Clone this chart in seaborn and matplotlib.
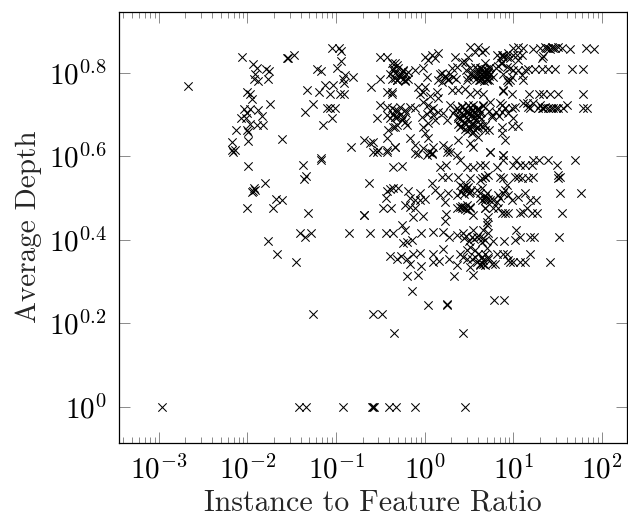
import numpy as np
import pandas as pd
import matplotlib
matplotlib.use("Agg")
import matplotlib.pyplot as plt
from matplotlib.ticker import FixedLocator, FixedFormatter, LogLocator, NullFormatter, NullLocator
import seaborn as sns

# Data as log10 values, one pair of lists per part of the cloud
x_bottom = [-2.96, -1.42, -1.34, -.92, -.59, -.58, -.57, -.40, -.32, -.11, .455, -1.256, -.58, -.478, -.346, .435, .034, .248, .25, .78, .894, -.14]
y_bottom = [0, 0, 0, 0, 0, 0, 0, 0, 0, 0, 0, .221, .221, .221, .176, .176, .243, .243, .247, .255, .255, .277]

x_left_low = [-1.989, -1.376, -1.173, -1.342, -1.357, -1.801, -1.925, -1.932, -1.914, -1.951, -1.68, -1.613, -2.0, -1.714, -1.312, -.68, -.85, -1.406, -1.35, -1.286, -1.763, -1.669, -1.451, -2.165]
y_left_low = [.577, .579, .591, .553, .545, .537, .523, .517, .519, .515, .497, .495, .477, .477, .463, .459, .415, .415, .406, .415, .398, .367, .347, .611]

x_left_high = [-2.056, -1.932, -1.895, -1.914, -1.925, -1.883, -1.771, -1.789, -1.752, -1.556, -2.665, -2.008, -1.97, -1.951, -1.744, -2.038, -1.97, -1.883, -2, -2.075, -2.015, -1.838, -1.97, -1.895, -1.82, -2, -1.989, -2.128, -1.613, -2.177, -1.989, -2.177, -2.139]
y_left_high = [.837, .82, .81, .798, .786, .78, .784, .809, .804, .834, .768, .754, .75, .737, .725, .713, .713, .71, .703, .691, .691, .696, .676, .675, .675, .663, .657, .663, .64, .635, .636, .615, .615]

x_mid_high = [-1.538, -1.474, -1.049, -.962, -.947, -.947, -1.211, -1.169, -.985, -.898, -.917, -.812, -.906, -1.323, -1.192, -1.124, -1.038, -1.068, -.955, -.91, -1.263, -1.35, -1.098, -1.068, -1.011, -1.049, -1.143, -.831, -1.173, -.684, -.609, -.504, -.504, -.429, -.335, -.372, -.316, -.429, -.372, -.504, -.429, -.541, -.429, -.335, -.41, -.353, -.316, -.429, -.579, -.335, -.579, -.523, -.429, -.617]
y_mid_high = [.834, .842, .858, .858, .853, .829, .808, .805, .81, .794, .784, .79, .776, .758, .754, .77, .77, .749, .749, .749, .724, .707, .716, .716, .716, .692, .675, .623, .595, .639, .766, .785, .837, .837, .822, .784, .782, .754, .754, .723, .719, .691, .699, .695, .663, .671, .675, .643, .635, .623, .611, .615, .616, .631]

x_core_top = [.004, .079, .154, .041, .117, .342, .511, .605, .68, .568, .643, .492, .455, .812, .887, .944, .85,
              -.372, -.316, -.353, -.241, -.184, -.109, -.278, -.391, -.316, -.222, -.015, .023, .173, .229, .305, .361, .417, .511, .568, .624, .68, .605, .662, .718, .549, .624, .699, .474, .774, .887, .925, .192, .267, .154, .737]
y_core_top = [.837, .842, .846, .83, .834, .838, .862, .862, .854, .85, .85, .838, .826, .842, .842, .846, .834,
              .822, .818, .81, .806, .802, .806, .794, .798, .782, .782, .81, .79, .798, .79, .81, .814, .826, .81, .814, .81, .822, .798, .802, .802, .79, .782, .782, .782, .79, .798, .782, .778, .782, .782, .814]

x_core_mid = [-.071, -.015, .060, -.372, .135, .154, .305, .380, .455, .511, .586, .662, .887, -.053, .004,
              -.372, -.335, -.278, -.222, -.165, -.109, -.015, .041, .098, .154, .211, .286, .342, .417, .492, .549, .605, .662, .737, .868, .906, -.391, -.316, -.260, -.203, -.034, .041, .117, .380, .436, .511, .568, .624, .455, .530, .605, .680, .756, -.335, -.222, -.015, .248, .323, .398, .474, .530, .586]
y_core_mid = [.766, .754, .743, .75, .754, .739, .758, .758, .762, .75, .754, .75, .758, .75, .766,
              .715, .711, .719, .711, .719, .715, .73, .723, .715, .707, .703, .723, .711, .719, .723, .723, .715, .723, .73, .723, .715, .691, .695, .687, .675, .695, .679, .687, .691, .699, .703, .695, .703, .679, .675, .671, .675, .695, .671, .683, .671, .687, .703, .671, .707, .711, .711]

x_core_low = [-.165, -.109, 0, .041, .098, -.015, .211, .267, .380, .511, .549, -.335, -.109, .079, .253, .053, .023, .879, .737, .530, .605, .723, .887, .68]
y_core_low = [.643, .627, .655, .643, .623, .619, .627, .619, .639, .631, .623, .623, .607, .607, .611, .611, .603, .603, .611, .655, .647, .663, .603, .663]

# The darkest clumps of the cloud
x_clump_top = [.59, .61, .63, .65, .67, .69, .71, .73, .60, .62, .64, .66, .68, .70, .72, .74, .58, .61, .64, .67, .70, .73, .55, .52, .49, .46, -.36, -.33, -.30, -.27, -.24, -.21, -.34, -.31, -.28, -.25, -.22, -.19, .20, .23, .26, .29, .32, .35, .80, .83, .86]
y_clump_top = [.808, .804, .81, .806, .802, .808, .804, .81, .796, .792, .798, .794, .79, .796, .792, .798, .784, .782, .786, .78, .784, .782, .794, .80, .79, .806, .806, .80, .81, .796, .804, .798, .788, .782, .79, .786, .78, .784, .80, .792, .786, .798, .79, .784, .81, .816, .822]

x_clump_mid = [.36, .39, .42, .45, .48, .51, .54, .57, .60, .63, .66, .37, .40, .43, .46, .49, .52, .55, .58, .61, .64, .38, .41, .44, .47, .50, .53, .56, .59, .62, .65, .45, .48, .51, .54, .57, -.36, -.33, -.30, -.27, -.24, -.21, .03, .06, .09, .72, .76, .80, .84]
y_clump_mid = [.716, .708, .72, .712, .704, .718, .71, .702, .714, .706, .72, .696, .69, .7, .694, .688, .698, .692, .686, .696, .69, .678, .672, .682, .676, .67, .68, .674, .668, .678, .672, .664, .66, .664, .658, .662, .702, .694, .708, .7, .692, .704, .702, .71, .698, .708, .698, .705, .696]

x_clump_low = [.40, .43, .46, .49, .52, .41, .44, .47, .50, .42, .45, .48, .51, .44, .47, .50, .53, .56, .62, .65, .68, .71]
y_clump_low = [.53, .524, .532, .526, .52, .514, .51, .518, .512, .48, .474, .482, .476, .404, .41, .398, .406, .402, .50, .494, .504, .498]

x_right_top = [.999, 1.056, 1.113, 1.225, 1.3, 1.357, 1.394, 1.432, 1.47, 1.507, 1.545, 1.639, 1.819, 1.913, 1.338, 1.319, 1.094, 1.037, .887, .925, .962, .868, .999, 1.056, 1.37, 1.41, 1.45]
y_right_top = [.858, .862, .858, .857, .86, .862, .86, .862, .86, .862, .858, .856, .86, .856, .841, .834, .842, .842, .838, .838, .834, .842, .842, .83, .858, .856, .858]

x_right_mid = [.962, .999, 1.056, 1.132, 1.17, 1.244, 1.319, 1.394, 1.47, 1.657, 1.782, .868, .925, 1.094, .962, .981, 1.113, .943, .887, .981, 1.18, 1.293, 1.338, 1.413, 1.507, 1.782]
y_right_mid = [.81, .806, .806, .806, .808, .808, .808, .808, .808, .808, .808, .822, .814, .794, .782, .79, .782, .778, .756, .748, .748, .748, .748, .748, .748, .748]

x_right_low = [.849, .906, .981, 1.018, 1.113, 1.17, 1.225, 1.3, 1.338, 1.394, 1.451, 1.507, 1.564, 1.601, 1.789, 1.834, 1.15, 1.188, .868, .943, .999, .868, 1.056, .981, .868, .906, 1.28, 1.32, 1.36, 1.42, 1.48]
y_right_low = [.727, .715, .715, .719, .727, .719, .727, .723, .715, .715, .715, .715, .716, .723, .715, .716, .727, .715, .707, .703, .691, .671, .673, .673, .655, .639, .715, .716, .719, .716, .715]

x_band_59 = [-.628, -.353, -.252, -.429, -.391, -.353, -.297, -.436, -.192, -.165, -.109, -.053, -.053, .004, .079, .117, .173, .229, .267, .361, .436, .474, .511, .586, .624, .699, .68, .398, .455, .173, .241, .192, .267, .38, .474, .549, .624, .511, .624, .68, -.071, .079, .361, -.541, -.429, .398, .286]
y_band_59 = [.537, .575, .577, .517, .521, .525, .525, .499, .517, .499, .495, .511, .495, .497, .535, .519, .507, .491, .511, .507, .527, .523, .515, .519, .511, .511, .495, .479, .479, .575, .579, .551, .551, .551, .575, .575, .579, .547, .543, .551, .605, .605, .603, .611, .611, .591, .611]

x_band_59_r = [.68, .879, .812, 1.0, 1.026, 1.075, 1.132, 1.207, 1.225, 1.293, 1.394, 1.488, 1.695, .736, .643, .718, .68, .85, .887, 1.018, 1.056, 1.094, 1.17, 1.225, 1.507, 1.507, 1.526, .643, .906, .925, .68, .774, .85, .943, .981, 1.056, 1.132, 1.188, 1.255, 1.526, 1.759, .736, .812, .887, .83]
y_band_59_r = [.579, .591, .575, .579, .591, .579, .579, .579, .592, .592, .592, .579, .591, .611, .547, .555, .551, .551, .547, .551, .551, .547, .547, .551, .547, .555, .551, .523, .519, .531, .499, .495, .499, .507, .495, .503, .513, .495, .495, .513, .511, .495, .491, .511, .507]

x_band_46 = [-.684, -.466, -.383, -.135, -.023, -.165, -.109, .229, .241, -.222, .361, .417, .549, .474, .511, .68, .68, .774, .868, .943, 1.075, 1.15, 1.207, 1.27, 1.552, .718, .83, 1.113, .906]
y_band_46 = [.459, .477, .477, .455, .457, .479, .477, .446, .461, .483, .475, .475, .459, .471, .479, .475, .475, .475, .463, .463, .463, .475, .463, .463, .463, .455, .475, .467, .463]

x_band_41 = [-.617, -.436, -.361, -.045, .09, .203, .278, .361, .436, .549, .586, .662, .718, -.203, -.241, -.147, -.222, -.259, .706, .661, 1.03, .68, .774, .894, 1.018, 1.075, 1.188, 1.233, 1.511, .624, .70, .643]
y_band_41 = [.415, .415, .415, .415, .418, .418, .406, .411, .415, .423, .407, .403, .415, .395, .391, .399, .423, .435, .443, .423, .423, .399, .398, .398, .399, .406, .406, .406, .406, .407, .435, .395]

x_band_35 = [-.39, -.316, -.27, -.203, -.165, -.128, -.053, -.045, .09, .098, .165, .203, .278, .368, .398, .474, .511, .568, .605, .662, .718, .474, .53, .586, .643, .68, .511, .568, .436, .624,
             .643, .68, .755, .793, .812, .925, .943, 1.0, 1.075, 1.132, 1.188, 1.413, .699, .661, .624, .887, .718, .962,
             -.2, -.08, .33, .545]
y_band_35 = [.361, .355, .361, .353, .342, .367, .369, .337, .367, .347, .349, .377, .353, .339, .367, .375, .335, .359, .367, .351, .359, .355, .355, .347, .359, .339, .383, .375, .359, .343,
             .359, .367, .343, .343, .367, .367, .351, .347, .347, .347, .367, .347, .379, .343, .339, .367, .355, .347,
             .314, .315, .314, .315]

# Axis ticks and labels
x_tick_values = [1e-3, 1e-2, 1e-1, 1e0, 1e1, 1e2]
x_tick_labels = ['$10^{-3}$', '$10^{-2}$', '$10^{-1}$', '$10^{0}$', '$10^{1}$', '$10^{2}$']
y_tick_exponents = [0, 0.2, 0.4, 0.6, 0.8]
y_tick_labels = ['$10^{0}$', '$10^{0.2}$', '$10^{0.4}$', '$10^{0.6}$', '$10^{0.8}$']

log_x = (x_bottom + x_left_low + x_left_high + x_mid_high + x_core_top + x_core_mid + x_core_low + x_clump_top + x_clump_mid
         + x_clump_low + x_right_top + x_right_mid + x_right_low + x_band_59 + x_band_59_r + x_band_46 + x_band_41 + x_band_35)
log_y = (y_bottom + y_left_low + y_left_high + y_mid_high + y_core_top + y_core_mid + y_core_low + y_clump_top + y_clump_mid
         + y_clump_low + y_right_top + y_right_mid + y_right_low + y_band_59 + y_band_59_r + y_band_46 + y_band_41 + y_band_35)

df = pd.DataFrame({'ratio': np.power(10.0, log_x), 'depth': np.power(10.0, log_y)})

sns.set_style("white")
plt.rcParams['font.family'] = ['cmr10', 'DejaVu Sans']
plt.rcParams['mathtext.fontset'] = 'cm'
plt.rcParams['axes.formatter.use_mathtext'] = True

fig = plt.figure(figsize=(6.28, 5.17), dpi=100)
ax = fig.add_axes([119.3 / 628, (517 - 442.7) / 517, 507.7 / 628, 431 / 517])
sns.scatterplot(data=df, x='ratio', y='depth', marker='x', color='black', s=36, linewidth=0.75, ax=ax, zorder=3)

ax.set_xscale('log')
ax.set_yscale('log')
ax.set_xlim(10 ** -3.444, 10 ** 2.281)
ax.set_ylim(10 ** -0.086, 10 ** 0.946)

ax.xaxis.set_major_locator(FixedLocator(x_tick_values))
ax.xaxis.set_major_formatter(FixedFormatter(x_tick_labels))
ax.xaxis.set_minor_locator(LogLocator(base=10, subs=range(2, 10), numticks=20))
ax.xaxis.set_minor_formatter(NullFormatter())
ax.yaxis.set_major_locator(FixedLocator(np.power(10.0, y_tick_exponents)))
ax.yaxis.set_major_formatter(FixedFormatter(y_tick_labels))
ax.yaxis.set_minor_locator(NullLocator())

ax.tick_params(which='major', direction='in', length=8, width=0.6, color='#777777', top=True, right=True,
               bottom=True, left=True, labelsize=21, labelcolor='black', pad=9)
ax.tick_params(which='minor', direction='in', length=4.5, width=0.6, color='#777777', top=True, bottom=True)

for side in ax.spines.values():
    side.set_visible(True)
    side.set_color('black')
    side.set_linewidth(0.9)

ax.set_xlabel('Instance to Feature Ratio', fontsize=21.5, labelpad=3.5)
ax.set_ylabel('Average Depth', fontsize=21, labelpad=5)

fig.savefig('out.png', dpi=100)
